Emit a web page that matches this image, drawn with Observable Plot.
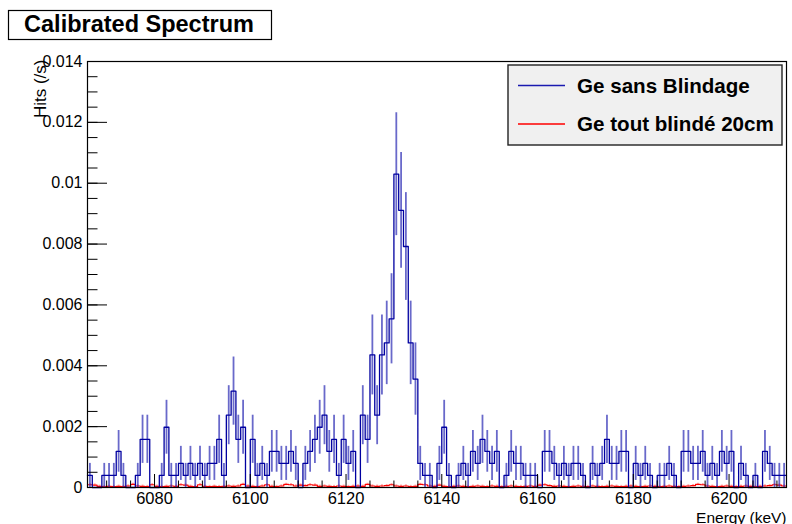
<!DOCTYPE html>
<html>
<head>
<meta charset="utf-8">
<script src="https://cdn.jsdelivr.net/npm/d3@7"></script>
<script src="https://cdn.jsdelivr.net/npm/@observablehq/plot@0.6"></script>
<style>
  html, body { margin: 0; padding: 0; background: #fff; }
  #chart { position: relative; width: 792px; height: 524px; }
</style>
</head>
<body>
<div id="chart"></div>
<script>
// ---- data ----
const titleText = "Calibrated Spectrum";
const xLabel = "Energy (keV)";
const yLabel = "Hits (/s)";
const seriesNames = ["Ge sans Blindage", "Ge tout blindé 20cm"];
const seriesColors = ["#0000a0", "#ff0000"];

const binLow = 6066;      // lower edge of first bin (keV)
const binWidth = 1;       // keV
const countRate = 0.000396; // Hits/s per recorded count

// counts per 1 keV bin, "Ge sans Blindage"
const blueCounts = [
  1,0,0,1,1,1,3,1,0,0,1,4,4,0,0,1,5,1,1,2,1,2,1,2,1,
  2,2,4,1,6,8,4,5,0,4,1,2,1,3,3,2,2,3,2,0,2,3,4,5,6,
  3,4,1,4,2,3,0,6,4,11,6,11,12,14,26,23,20,12,9,2,1,1,0,2,5,
  1,0,1,2,1,3,2,4,3,2,3,0,1,3,2,2,1,1,1,0,3,3,2,1,2,1,2,2,1,0,2,1,2,4,
  2,2,3,3,0,2,1,2,1,0,1,1,2,1,0,3,3,2,2,3,1,2,1,3,2,3,0,2,1,0,1,0,3,2,1,1,1
];

// "Ge tout blindé 20cm" rate per bin (Hits/s)
const redHits = [
  0.00009,0.00008,0.00004,0.00003,0.00004,0.00003,0.00004,0.00003,0.00005,0.00010,
  0.00005,0.00004,0.00003,0.00009,0.00004,0.00003,0.00004,0.00005,0.00004,0.00009,
  0.00008,0.00004,0.00003,0.00009,0.00004,0.00003,0.00004,0.00003,0.00004,0.00005,
  0.00004,0.00005,0.00010,0.00005,0.00004,0.00003,0.00005,0.00009,0.00004,0.00003,
  0.00005,0.00010,0.00009,0.00005,0.00008,0.00006,0.00009,0.00008,0.00004,0.00005,
  0.00004,0.00003,0.00005,0.00004,0.00003,0.00004,0.00005,0.00004,0.00010,0.00005,
  0.00004,0.00005,0.00006,0.00009,0.00005,0.00004,0.00005,0.00003,0.00004,0.00010,
  0.00009,0.00005,0.00004,0.00008,0.00004,0.00003,0.00004,0.00005,0.00004,0.00003,
  0.00004,0.00005,0.00004,0.00003,0.00005,0.00004,0.00003,0.00004,0.00005,0.00004,
  0.00003,0.00004,0.00005,0.00004,0.00008,0.00009,0.00006,0.00004,0.00005,0.00004,
  0.00003,0.00004,0.00005,0.00004,0.00003,0.00005,0.00004,0.00003,0.00004,0.00005,
  0.00004,0.00003,0.00004,0.00005,0.00004,0.00003,0.00004,0.00005,0.00004,0.00003,
  0.00004,0.00005,0.00004,0.00003,0.00004,0.00005,0.00006,0.00010,0.00009,0.00005,
  0.00004,0.00003,0.00004,0.00005,0.00004,0.00003,0.00004,0.00005,0.00004,0.00003,
  0.00004,0.00005,0.00006,0.00009,0.00008,0.00005
];
const redErr = 0.00004;

const xDomain = [6066, 6212];
const yDomain = [0, 0.014];
const xTickValues = [6080, 6100, 6120, 6140, 6160, 6180, 6200];
const xMinorTicks = d3.range(6070, 6212, 5);
const yTickValues = [0, 0.002, 0.004, 0.006, 0.008, 0.01, 0.012, 0.014];
const yMinorTicks = d3.range(0, 0.01401, 0.0005);

// ---- build tables ----
const blueBins = blueCounts.map((n, i) => ({
  x0: binLow + i * binWidth,
  x1: binLow + (i + 1) * binWidth,
  xc: binLow + (i + 0.5) * binWidth,
  v: n * countRate,
  lo: (n - Math.sqrt(n)) * countRate,
  hi: (n + Math.sqrt(n)) * countRate,
  n
}));
const blueStep = blueBins.map(b => ({x: b.x0, y: b.v}))
  .concat([{x: blueBins[blueBins.length - 1].x1, y: blueBins[blueBins.length - 1].v}]);

const redBins = redHits.map((v, i) => ({
  x0: binLow + i * binWidth,
  x1: binLow + (i + 1) * binWidth,
  xc: binLow + (i + 0.5) * binWidth,
  v, lo: Math.max(0, v - redErr), hi: v + redErr
}));
const redStep = redBins.map(b => ({x: b.x0, y: b.v}))
  .concat([{x: redBins[redBins.length - 1].x1, y: redBins[redBins.length - 1].v}]);

const W = 792, H = 524;
const mL = 87, mR = 6, mT = 61, mB = 37;
const frameW = W - mL - mR, frameH = H - mT - mB;

const fmtY = d => d === 0 ? "0" : d3.format(".3f")(d).replace(/0+$/, "").replace(/\.$/, "");

const chart = Plot.plot({
  width: W, height: H,
  marginLeft: mL, marginRight: mR, marginTop: mT, marginBottom: mB,
  style: {fontFamily: "'Liberation Sans', Arial, Helvetica, sans-serif", background: "#fff", overflow: "visible"},
  x: {domain: xDomain, label: null},
  y: {domain: yDomain, label: null},
  marks: [
    // red (shielded)
    Plot.ruleX(redBins, {x: "xc", y1: "lo", y2: "hi", stroke: seriesColors[1], strokeOpacity: 0.35, strokeWidth: 2}),
    Plot.line(redStep, {x: "x", y: "y", curve: "step-after", stroke: seriesColors[1], strokeWidth: 1.2}),
    // blue (unshielded)
    Plot.ruleX(blueBins.filter(b => b.n > 0), {x: "xc", y1: "lo", y2: "hi", stroke: "#2a2ab4", strokeOpacity: 0.7, strokeWidth: 1.8}),
    Plot.line(blueStep, {x: "x", y: "y", curve: "step-after", stroke: seriesColors[0], strokeWidth: 1.3}),
    // inside ticks (ROOT style)
    Plot.tickX(xTickValues, {x: d => d, insetTop: frameH - 13, stroke: "#000", strokeWidth: 1}),
    Plot.tickX(xMinorTicks.filter(d => !xTickValues.includes(d)), {x: d => d, insetTop: frameH - 6.5, stroke: "#000", strokeWidth: 1}),
    Plot.tickY(yTickValues, {y: d => d, insetRight: frameW - 20, stroke: "#000", strokeWidth: 1}),
    Plot.tickY(yMinorTicks, {y: d => d, insetRight: frameW - 10.5, stroke: "#000", strokeWidth: 1}),
    Plot.frame({stroke: "#000", strokeWidth: 1.2}),
    Plot.axisX(xTickValues, {tickSize: 0, tickPadding: 4.5, fontSize: 16.5, tickFormat: d => String(d), fill: "#000"}),
    Plot.axisY(yTickValues, {tickSize: 0, tickPadding: 5, fontSize: 16, tickFormat: fmtY, fill: "#000"}),
    Plot.text([xLabel], {frameAnchor: "bottom-right", text: d => d, textAnchor: "end", lineAnchor: "bottom", dy: 35, fontSize: 15.5, fill: "#000"}),
    Plot.text([yLabel], {frameAnchor: "top-left", text: d => d, rotate: -90, textAnchor: "end", lineAnchor: "middle", dx: -47, dy: -2, fontSize: 17, fill: "#000"})
  ]
});

document.getElementById("chart").appendChild(chart);

// ---- title box and legend (ROOT-like) ----
const svg = d3.select(chart);
const tg = svg.append("g");
tg.append("rect").attr("x", 8.5).attr("y", 10.5).attr("width", 263).attr("height", 29)
  .attr("fill", "#fff").attr("stroke", "#000").attr("stroke-width", 1.2);
tg.append("text").attr("x", 139).attr("y", 31.5).attr("text-anchor", "middle")
  .attr("font-family", "'Liberation Sans', Arial, sans-serif").attr("font-weight", "bold")
  .attr("font-size", 23.5).attr("fill", "#000").text(titleText);

const lg = svg.append("g");
lg.append("rect").attr("x", 508).attr("y", 65).attr("width", 274).attr("height", 80)
  .attr("fill", "#f0f0f0").attr("stroke", "#222").attr("stroke-width", 1.4);
seriesNames.forEach((name, i) => {
  const yy = [85.5, 124][i];
  lg.append("line").attr("x1", 518).attr("x2", 565).attr("y1", yy).attr("y2", yy)
    .attr("stroke", i === 0 ? "#1a1ab0" : seriesColors[i]).attr("stroke-width", 1.4);
  lg.append("text").attr("x", 577).attr("y", yy + 7).attr("text-anchor", "start")
    .attr("font-family", "'Liberation Sans', Arial, sans-serif").attr("font-weight", "bold")
    .attr("font-size", 20.6).attr("fill", "#000").text(name);
});
</script>
</body>
</html>
